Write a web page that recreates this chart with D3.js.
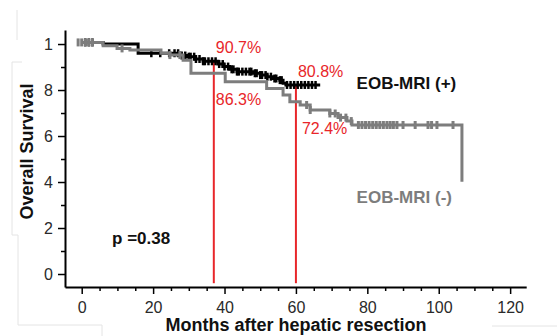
<!DOCTYPE html>
<html>
<head>
<meta charset="utf-8">
<script src="https://cdn.jsdelivr.net/npm/d3@7"></script>
<style>
  body { margin: 0; background: #fff; }
  svg { display: block; font-family: "Liberation Sans", Arial, sans-serif; }
</style>
</head>
<body>
<div id="chart"></div>
<script>
// EOB-MRI (+) : step times (months) and survival (axis units, 10 = 100%)
const posTimes = [0, 6.0, 15.8, 27.5, 29.5, 31.7, 34, 38.2, 39.6, 41.5, 43.5, 48, 50, 51.9, 53.6, 55.5, 56.4, 57.2];
const posSurv = [10.07, 10.0, 9.6, 9.5, 9.45, 9.35, 9.25, 9.13, 9.02, 8.9, 8.8, 8.73, 8.65, 8.58, 8.5, 8.43, 8.3, 8.22];
const posEnd = 66.8;
const posCensor = [1, 2, 3, 19.5, 22, 24.5, 26, 27, 28, 29, 30, 30.5, 31.5, 32, 33, 34, 34.5, 35.5, 36.5, 37.5, 38.5, 39.5, 40, 41, 42, 42.5, 43.5, 44, 45, 46, 47, 47.5, 48.5, 49, 50, 50.5, 51.5, 52, 53, 54, 54.5, 55.5, 56, 57.5, 58.5, 59.5, 60.5, 61.5, 62.5, 63.5, 64.5, 65.5];

// EOB-MRI (-)
const negTimes = [0, 6, 9.9, 13.5, 22.2, 24.7, 28.4, 30.6, 40.2, 51.8, 56.4, 58.3, 61.2, 64, 69.5, 71.8, 74.3, 75.7, 106.5];
const negSurv = [10.07, 9.93, 9.81, 9.74, 9.6, 9.52, 9.3, 8.73, 8.36, 8.07, 7.78, 7.49, 7.35, 7.13, 6.98, 6.8, 6.65, 6.48, 4.01];
const negCensor = [-1, 0, 1, 2, 3, 11.3, 24.7, 27.5, 63, 64, 69.5, 71, 72.5, 74, 75.5, 77.5, 78.5, 79.5, 80.5, 81.5, 82.5, 83.5, 84.5, 85.5, 86.4, 87.3, 88.3, 90, 93.4, 97, 98, 99.5, 104];

// red reference lines and percentages
const markTimes = [37, 60];
const posPct = ["90.7%", "80.8%"];
const negPct = ["86.3%", "72.4%"];

const xTicks = [0, 20, 40, 60, 80, 100, 120];
const xMinor = d3.range(5, 125, 5).filter(d => d % 20 !== 0);
const yTicks = [0, 2, 4, 6, 8, 10];
const yTickLabels = ["0", "2", "4", "6", "8", "1"];
const yMinor = [1, 3, 5, 7, 9];

const W = 557, H = 336;

const svg = d3.select("#chart").append("svg")
  .attr("width", W)
  .attr("height", H);

const x = d3.scaleLinear().domain([-4.68, 124.5]).range([65, 526.2]);
const y = d3.scaleLinear().domain([-0.565, 10.61]).range([287, 30]);

// faint page frame lines from the source
svg.append("path")
  .attr("d", "M17,10V40M12,62H22M12,62V235H18V325H102V336M492,326H557")
  .attr("fill", "none")
  .attr("stroke", "#e4e4e4")
  .attr("stroke-width", 1);

const stepAt = (times, vals, t) => vals[d3.bisectRight(times, t) - 1];

// axes
svg.append("g")
  .attr("transform", `translate(0,${y(-0.565)})`)
  .call(d3.axisBottom(x).tickValues(xTicks).tickSize(7).tickSizeOuter(0).tickPadding(8));
svg.append("g")
  .attr("transform", `translate(0,${y(-0.565)})`)
  .call(d3.axisBottom(x).tickValues(xMinor).tickSize(4).tickFormat(""))
  .call(g => g.select(".domain").remove());

svg.append("g")
  .attr("transform", `translate(${x(-4.68)},0)`)
  .call(d3.axisLeft(y).tickValues(yTicks).tickSize(7).tickSizeOuter(0).tickPadding(5)
    .tickFormat((d, i) => yTickLabels[i]));
svg.append("g")
  .attr("transform", `translate(${x(-4.68)},0)`)
  .call(d3.axisLeft(y).tickValues(yMinor).tickSize(4).tickFormat(""))
  .call(g => g.select(".domain").remove());

svg.selectAll(".domain").attr("stroke", "#000").attr("stroke-width", 2);
svg.selectAll(".tick line").attr("stroke", "#000").attr("stroke-width", 1.5);
svg.selectAll(".tick text")
  .attr("fill", "#2a2a2a")
  .style("font-size", "16px")
  .style("font-family", "'Liberation Sans', Arial, sans-serif");

// red lines
svg.selectAll("line.mark")
  .data(markTimes)
  .join("line")
  .attr("class", "mark")
  .attr("x1", d => x(d)).attr("x2", d => x(d))
  .attr("y1", d => y(stepAt(posTimes, posSurv, d)))
  .attr("y2", y(-0.4))
  .attr("stroke", "#e8262a")
  .attr("stroke-width", 2);

// curves
const line = d3.line()
  .curve(d3.curveStepAfter)
  .x(d => x(d[0]))
  .y(d => y(d[1]));

const negPts = negTimes.map((t, i) => [t, negSurv[i]]);
const posPts = posTimes.map((t, i) => [t, posSurv[i]]).concat([[posEnd, posSurv[posSurv.length - 1]]]);

svg.append("path")
  .datum(posPts)
  .attr("fill", "none")
  .attr("stroke", "#000")
  .attr("stroke-width", 3)
  .attr("d", line);

svg.selectAll("line.cpos")
  .data(posCensor)
  .join("line")
  .attr("class", "cpos")
  .attr("x1", d => x(d)).attr("x2", d => x(d))
  .attr("y1", d => y(stepAt(posTimes, posSurv, d)) - 4)
  .attr("y2", d => y(stepAt(posTimes, posSurv, d)) + 4)
  .attr("stroke", "#000")
  .attr("stroke-width", 2.5);

svg.append("path")
  .datum(negPts)
  .attr("fill", "none")
  .attr("stroke", "#7d7d7d")
  .attr("stroke-width", 3)
  .attr("d", line);

svg.selectAll("line.cneg")
  .data(negCensor)
  .join("line")
  .attr("class", "cneg")
  .attr("x1", d => x(d)).attr("x2", d => x(d))
  .attr("y1", d => y(stepAt(negTimes, negSurv, Math.max(d, 0))) - 4)
  .attr("y2", d => y(stepAt(negTimes, negSurv, Math.max(d, 0))) + 4)
  .attr("stroke", "#7d7d7d")
  .attr("stroke-width", 3);

// percentage labels
svg.selectAll("text.ppos")
  .data(markTimes)
  .join("text")
  .attr("class", "ppos")
  .attr("x", d => x(d) + 2)
  .attr("y", d => y(stepAt(posTimes, posSurv, d)) - 8)
  .attr("fill", "#e8262a")
  .style("font-size", "16px")
  .text((d, i) => posPct[i]);

svg.selectAll("text.pneg")
  .data(markTimes)
  .join("text")
  .attr("class", "pneg")
  .attr("x", (d, i) => x(d) + (i ? 6 : 2))
  .attr("y", d => y(stepAt(negTimes, negSurv, d)) + 32)
  .attr("fill", "#e8262a")
  .style("font-size", "16px")
  .text((d, i) => negPct[i]);

// group labels and p value
svg.append("text")
  .attr("x", x(77)).attr("y", y(8.05))
  .attr("fill", "#111")
  .style("font-size", "17px").style("font-weight", "bold")
  .text("EOB-MRI (+)");

svg.append("text")
  .attr("x", x(77)).attr("y", y(3.07))
  .attr("fill", "#7d7d7d")
  .style("font-size", "17px").style("font-weight", "bold")
  .text("EOB-MRI (-)");

svg.append("text")
  .attr("x", x(8.5)).attr("y", y(1.3))
  .attr("fill", "#111")
  .style("font-size", "17px").style("font-weight", "bold")
  .text("p =0.38");

// axis titles
svg.append("text")
  .attr("transform", "translate(33,151.5) rotate(-90)")
  .attr("text-anchor", "middle")
  .attr("fill", "#111")
  .style("font-size", "18px").style("font-weight", "bold")
  .text("Overall Survival");

svg.append("text")
  .attr("x", 296).attr("y", 331)
  .attr("text-anchor", "middle")
  .attr("fill", "#111")
  .style("font-size", "18px").style("font-weight", "bold")
  .text("Months after hepatic resection");
</script>
</body>
</html>
